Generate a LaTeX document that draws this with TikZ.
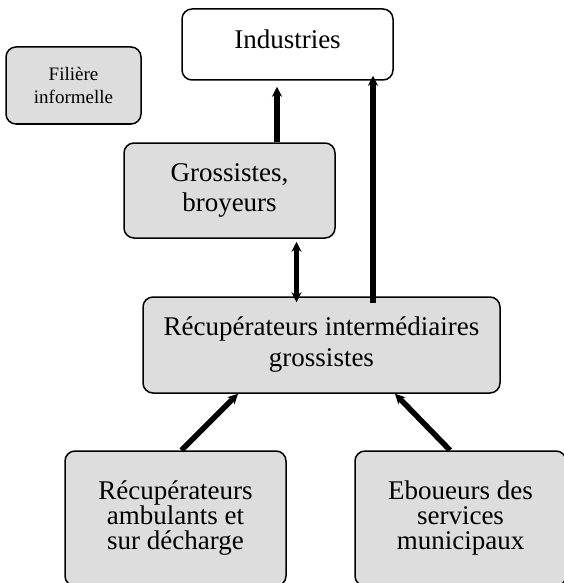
\documentclass[tikz,border=0pt]{standalone}
\usepackage{fontspec}
\setmainfont{Liberation Serif}
\usetikzlibrary{arrows.meta}
\definecolor{boxgray}{RGB}{221, 221, 221}

\tikzset{
  acteur/.style={draw, line width=1.5pt, rounded corners=10pt, fill=boxgray,
    align=center, inner sep=0pt, font=\fontsize{27}{30}\selectfont},
  flux/.style={line width=5.5pt, -{Stealth[length=10pt, width=10pt]}},
}

\begin{document}
\begin{tikzpicture}[x=1pt, y=-1pt]
\useasboundingbox (0,0) rectangle (564,583);

% les acteurs
\node[acteur, fill=white, minimum width=211pt, minimum height=71pt, text depth=10pt] (ind) at (287.5,44.5) {Industries};
\node[acteur, minimum width=135pt, minimum height=77pt, font=\fontsize{19}{23}\selectfont] (fil) at (73.5,85.5) {Filière\\informelle};
\node[acteur, minimum width=211pt, minimum height=95pt] (gro) at (229.5,190.5) {Grossistes,\\broyeurs};
\node[acteur, minimum width=357pt, minimum height=96pt, font=\fontsize{27}{31}\selectfont] (rim) at (321.5,345) {Récupérateurs intermédiaires\\grossistes};
\node[acteur, minimum width=221pt, minimum height=135pt, font=\fontsize{27}{25}\selectfont] (amb) at (175.5,518.5) {Récupérateurs\\ambulants et\\sur décharge};
\node[acteur, minimum width=211pt, minimum height=135pt, font=\fontsize{27}{25}\selectfont] (ebo) at (460.5,518.5) {Eboueurs des\\services\\municipaux};

% les flux
\draw[flux, shorten >=6pt] ([xshift=47.5pt]gro.north) -- ([xshift=47.5pt]gro.north |- ind.south);
\draw[flux, shorten <=-7pt, shorten >=-5pt] ([xshift=51.5pt]rim.north) -- ([xshift=51.5pt]rim.north |- ind.south);
\draw[flux, {Stealth[length=10pt, width=10pt]}-{Stealth[length=10pt, width=10pt]}, shorten <=3pt, shorten >=-6pt] ([xshift=67pt]gro.south) -- ([xshift=67pt]gro.south |- rim.north);
\draw[flux] ([xshift=6pt]amb.north) -- ([xshift=-83.5pt]rim.south);
\draw[flux] ([xshift=-10.5pt]ebo.north) -- ([xshift=73.5pt]rim.south);
\end{tikzpicture}
\end{document}
